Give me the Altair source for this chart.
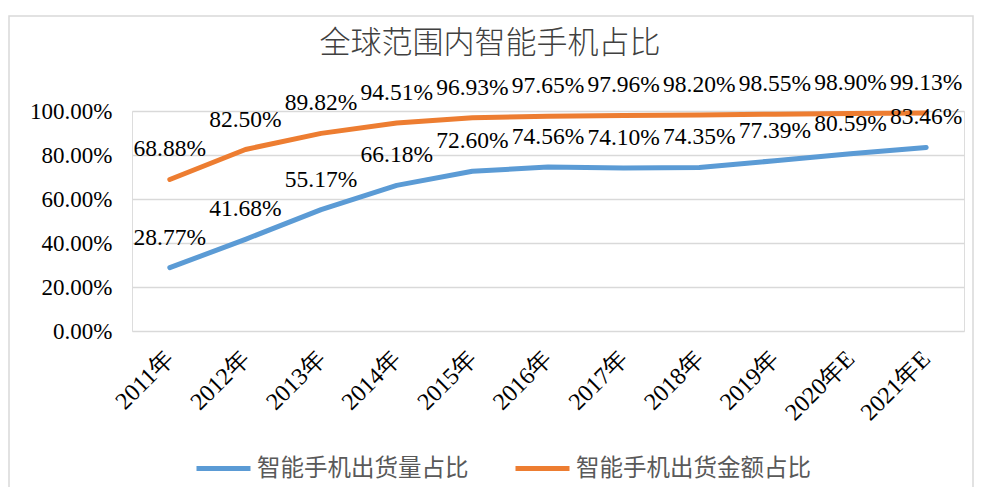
import altair as alt
import pandas as pd

years = ["2011年", "2012年", "2013年", "2014年", "2015年", "2016年",
         "2017年", "2018年", "2019年", "2020年E", "2021年E"]
shipment_share = [28.77, 41.68, 55.17, 66.18, 72.60, 74.56, 74.10, 74.35, 77.39, 80.59, 83.46]
value_share = [68.88, 82.50, 89.82, 94.51, 96.93, 97.65, 97.96, 98.20, 98.55, 98.90, 99.13]
series_names = ["智能手机出货量占比", "智能手机出货金额占比"]
series_colors = ["#5B9BD5", "#ED7D31"]
y_ticks = [0, 0.2, 0.4, 0.6, 0.8, 1.0]
title_text = "全球范围内智能手机占比"

rows = []
for name, vals in zip(series_names, [shipment_share, value_share]):
    for yr, v in zip(years, vals):
        rows.append({"year": yr, "series": name, "value": v / 100, "label": f"{v:.2f}%"})
df = pd.DataFrame(rows)

SERIF = "Liberation Serif"
CJK = "Noto Sans CJK SC"

W, H = 832, 220
PAD_L, PAD_T = 124, 103

x_enc = alt.X("year:N", sort=years,
              scale=alt.Scale(type="point", padding=0.5),
              axis=alt.Axis(title=None, labelAngle=-45, labelAlign="right",
                            labelBaseline="middle", labelFont=SERIF, labelFontSize=24,
                            labelColor="#000000", labelPadding=24, domain=False,
                            ticks=False, grid=False, labelOverlap=False, labelLimit=300))
y_enc = alt.Y("value:Q", scale=alt.Scale(domain=[0, 1]),
              axis=alt.Axis(title=None, values=y_ticks, format=".2%", labelFont=SERIF,
                            labelFontSize=23, labelColor="#000000", labelPadding=20,
                            domain=False, ticks=False, grid=True, gridColor="#D9D9D9",
                            gridWidth=1.5))

base = alt.Chart(df)

lines = base.mark_line(strokeWidth=5, strokeCap="round", strokeJoin="round").encode(
    x=x_enc, y=y_enc,
    color=alt.Color("series:N",
                    scale=alt.Scale(domain=series_names, range=series_colors),
                    legend=alt.Legend(title=None, orient="none", direction="horizontal",
                                      legendX=62, legendY=328, symbolType="stroke",
                                      symbolStrokeWidth=5, symbolSize=2916,
                                      labelFont=CJK, labelFontSize=23.5, labelColor="#595959",
                                      labelOffset=4, columnPadding=36, padding=0,
                                      labelLimit=400)),
)

labels = base.mark_text(baseline="alphabetic", dy=-23, font=SERIF, fontSize=23.5,
                        color="#000000").encode(
    x=alt.X("year:N", sort=years), y=alt.Y("value:Q"), text="label:N")

title_df = pd.DataFrame({"t": [title_text]})
title = alt.Chart(title_df).mark_text(font=CJK, fontSize=31, fontWeight=300, color="#404040",
                                      baseline="alphabetic", align="center").encode(
    x=alt.value(358), y=alt.value(-58), text="t:N")

border = alt.Chart(title_df).mark_rect(fill="transparent", stroke="#D9D9D9",
                                       strokeWidth=1.5).encode(
    x=alt.value(-123), x2=alt.value(841), y=alt.value(-95), y2=alt.value(384))

chart = alt.layer(border, lines, labels, title).properties(
    width=W, height=H,
    autosize=alt.AutoSizeParams(type="none"),
    padding={"left": PAD_L, "top": PAD_T, "right": 10, "bottom": 156},
).configure_view(stroke=None).configure(background="white")

chart.save("out.html", embed_options={"renderer": "svg", "actions": False})
